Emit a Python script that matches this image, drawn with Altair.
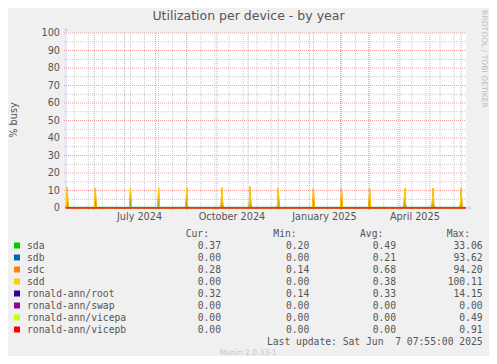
import altair as alt
import pandas as pd

# ---------------- data ----------------
devices = ["sda", "sdb", "sdc", "sdd", "ronald-ann/root", "ronald-ann/swap",
           "ronald-ann/vicepa", "ronald-ann/vicepb"]
colors = ["#00CC00", "#0066B3", "#FF8000", "#FFCC00", "#330099", "#990099",
          "#CCFF00", "#FF0000"]
cur_vals = [0.37, 0.00, 0.28, 0.00, 0.32, 0.00, 0.00, 0.00]
min_vals = [0.20, 0.00, 0.14, 0.00, 0.14, 0.00, 0.00, 0.00]
avg_vals = [0.49, 0.21, 0.68, 0.38, 0.33, 0.00, 0.00, 0.00]
max_vals = [33.06, 93.62, 94.20, 100.11, 14.15, 0.00, 0.49, 0.91]

# everyday (baseline) daily-average utilisation of each device
baseline = [0.35, 0.02, 0.30, 0.02, 0.32, 0.00, 0.00, 0.00]

# monthly RAID-check days (first Sunday of each month) and their daily averages
spike_dates = ["2024-05-05", "2024-06-02", "2024-07-07", "2024-08-04", "2024-09-01",
               "2024-10-06", "2024-11-03", "2024-12-01", "2025-01-05", "2025-02-02",
               "2025-03-02", "2025-04-06", "2025-05-04", "2025-06-01"]
spike_sda = [4.2, 4.0, 4.1, 3.9, 4.0, 4.2, 4.5, 4.0, 3.9, 4.0, 3.8, 4.1, 4.0, 4.0]
spike_sdb = [6.1, 5.9, 6.0, 5.8, 6.0, 6.2, 6.6, 6.0, 5.9, 6.0, 5.8, 6.0, 6.0, 6.0]
spike_sdc = [11.8, 11.4, 11.4, 11.3, 11.4, 11.6, 12.2, 11.4, 11.4, 11.4, 11.2, 11.4, 11.4, 11.4]
spike_sdd = [11.6, 11.3, 11.3, 11.2, 11.3, 11.5, 11.9, 11.3, 11.3, 11.3, 11.1, 11.3, 11.3, 11.3]
spikes = {"sda": spike_sda, "sdb": spike_sdb, "sdc": spike_sdc, "sdd": spike_sdd}

x_start = "2024-05-03T20:00:00Z"
x_end = "2025-06-05T20:00:00Z"

month_starts = [d.strftime("%Y-%m-%d") for d in pd.date_range("2024-06-01", "2025-06-01", freq="MS")]
minor_days = [d.strftime("%Y-%m-%d") for d in pd.date_range("2024-05-12", "2025-06-01", freq="14D")]
y_major = [0, 10, 20, 30, 40, 50, 60, 70, 80, 90, 100]
y_minor = [5, 15, 25, 35, 45, 55, 65, 75, 85, 95]
x_label_days = ["2024-07-16", "2024-10-16", "2025-01-16", "2025-04-16"]

# ---------------- tables ----------------
rows = []
for k, dev in enumerate(devices):
    b = baseline[k]
    rows.append({"device": dev, "date": x_start, "value": b})
    if dev in spikes:
        for d, h in zip(spike_dates, spikes[dev]):
            t = pd.Timestamp(d)
            rows.append({"device": dev, "date": (t - pd.Timedelta(days=1)).strftime("%Y-%m-%dT00:00:00Z"), "value": b})
            rows.append({"device": dev, "date": t.strftime("%Y-%m-%dT00:00:00Z"), "value": h})
            rows.append({"device": dev, "date": (t + pd.Timedelta(days=1)).strftime("%Y-%m-%dT00:00:00Z"), "value": b})
    rows.append({"device": dev, "date": x_end, "value": b})
lines_df = pd.DataFrame(rows)

legend_df = pd.DataFrame({"i": list(range(len(devices))), "device": devices, "color": colors,
                          "cur": cur_vals, "min": min_vals, "avg": avg_vals, "max": max_vals})

W, H = 400, 175
xscale = alt.Scale(type="utc", domain=[x_start, x_end])
yscale = alt.Scale(domain=[0, 100])
FONT = "DejaVu Sans"
MONO = "DejaVu Sans Mono"
TXT = "#555555"
AXIS = "#CFD6F8"

# ---------------- grid ----------------
hminor = alt.Chart(pd.DataFrame({"v": y_minor})).mark_rule(
    color="#C8C8C8", strokeWidth=1, strokeDash=[1, 1]).encode(
    y=alt.Y("v:Q", scale=yscale, axis=None), x=alt.value(-2), x2=alt.value(W))
hmajor_df = pd.DataFrame({"v": y_major})
hmajor = alt.Chart(hmajor_df).mark_rule(
    color="#F2A0A0", strokeWidth=1, strokeDash=[1, 1]).encode(
    y=alt.Y("v:Q", scale=yscale, axis=None), x=alt.value(-2), x2=alt.value(W))
ylabels = alt.Chart(hmajor_df).mark_text(font=FONT, fontSize=9.7, color=TXT, align="right",
                                         baseline="middle").encode(
    y=alt.Y("v:Q", scale=yscale, axis=None), x=alt.value(-6), text=alt.Text("v:Q"))
vminor = alt.Chart(pd.DataFrame({"d": minor_days})).mark_rule(
    color="#C8C8C8", strokeWidth=1, strokeDash=[1, 1]).encode(
    x=alt.X("d:T", scale=xscale, axis=None), y=alt.value(0), y2=alt.value(H + 2))
vmajor = alt.Chart(pd.DataFrame({"d": month_starts})).mark_rule(
    color="#F2A0A0", strokeWidth=1, strokeDash=[1, 1]).encode(
    x=alt.X("d:T", scale=xscale, axis=None), y=alt.value(0), y2=alt.value(H + 2))
xlabels = alt.Chart(pd.DataFrame({"d": x_label_days})).transform_calculate(
    lbl="utcFormat(toDate(datum.d), '%B %Y')").mark_text(
    font=FONT, fontSize=9.7, color=TXT, align="center", baseline="middle").encode(
    x=alt.X("d:T", scale=xscale, axis=None), y=alt.value(H + 9), text="lbl:N")

# axis lines and arrows
one = pd.DataFrame({"a": [1]})
yaxis_line = alt.Chart(one).mark_rule(color=AXIS, strokeWidth=1).encode(
    x=alt.value(0), y=alt.value(-4), y2=alt.value(H + 2))
xaxis_line = alt.Chart(one).mark_rule(color=AXIS, strokeWidth=1).encode(
    y=alt.value(H), x=alt.value(-2), x2=alt.value(W + 3))
arrow_up = alt.Chart(one).mark_point(shape="triangle-up", filled=True, size=22, opacity=1,
                                     color=AXIS).encode(x=alt.value(0), y=alt.value(-4))
arrow_right = alt.Chart(one).mark_point(shape="triangle-right", filled=True, size=22, opacity=1,
                                        color=AXIS).encode(x=alt.value(W + 4), y=alt.value(H))

# ---------------- series ----------------
series_layers = []
for k, dev in enumerate(devices):
    series_layers.append(
        alt.Chart(lines_df).transform_filter(alt.datum.device == dev).mark_line(
            color=colors[k], strokeWidth=1, interpolate="linear").encode(
            x=alt.X("date:T", scale=xscale, axis=None),
            y=alt.Y("value:Q", scale=yscale, axis=None)))

# ---------------- texts ----------------
title = alt.Chart(one).mark_text(text="Utilization per device - by year", font=FONT, fontSize=12.5,
                                 color=TXT, align="center", baseline="alphabetic").encode(
    x=alt.value(182.5), y=alt.value(-13.2))
ytitle = alt.Chart(one).mark_text(text="% busy", font=FONT, fontSize=9.7, color=TXT, angle=270,
                                  align="center", baseline="middle").encode(
    x=alt.value(-51.7), y=alt.value(87))
rrd = alt.Chart(one).mark_text(text="RRDTOOL / TOBI OETIKER", font=FONT, fontSize=7.6,
                               color="#BDBDBD", angle=90, align="center", baseline="middle").encode(
    x=alt.value(417.5), y=alt.value(26))
munin = alt.Chart(one).mark_text(text="Munin 2.0.33-1", font=FONT, fontSize=7.6, color="#C4C4C4",
                                 align="center", baseline="middle").encode(
    x=alt.value(182), y=alt.value(320))
last = alt.Chart(one).mark_text(text="Last update: Sat Jun \u00a07 07:55:00 2025", font=MONO,
                                fontSize=9.7, color=TXT, align="right", baseline="middle").encode(
    x=alt.value(416.7), y=alt.value(308.7))

headers = []
for label, hx in [("Cur:", 119.7), ("Min:", 207.3), ("Avg:", 294), ("Max:", 380.7)]:
    headers.append(alt.Chart(one).mark_text(text=label, font=MONO, fontSize=9.7, color=TXT,
                                            align="left", baseline="middle").encode(
        x=alt.value(hx), y=alt.value(201.3)))

leg = alt.Chart(legend_df).transform_calculate(yy="212.5 + 12 * datum.i")
swatches = leg.mark_square(size=36, filled=True, opacity=1).encode(
    x=alt.value(-49), y=alt.Y("yy:Q", scale=None, axis=None),
    color=alt.Color("color:N", scale=None, legend=None))
names = leg.mark_text(font=MONO, fontSize=9.7, color=TXT, align="left", baseline="middle").encode(
    x=alt.value(-39), y=alt.Y("yy:Q", scale=None, axis=None), text="device:N")
cols = []
for field, rx in [("cur", 155), ("min", 243.3), ("avg", 330), ("max", 416.7)]:
    cols.append(leg.mark_text(font=MONO, fontSize=9.7, color=TXT, align="right", baseline="middle").encode(
        x=alt.value(rx), y=alt.Y("yy:Q", scale=None, axis=None),
        text=alt.Text(f"{field}:Q", format=".2f")))

chart = alt.layer(
    hminor, hmajor, vminor, vmajor, yaxis_line, xaxis_line, *series_layers, arrow_up, arrow_right,
    ylabels, xlabels, title, ytitle, rrd, munin, last, *headers, swatches, names, *cols
).properties(
    width=W, height=H,
    autosize=alt.AutoSizeParams(type="none"),
    padding={"left": 58, "top": 25, "right": 23, "bottom": 148},
    background="#F0F0F0",
).configure_view(fill="white", stroke=None)

chart.save("out.html", embed_options={"renderer": "svg", "actions": False})
